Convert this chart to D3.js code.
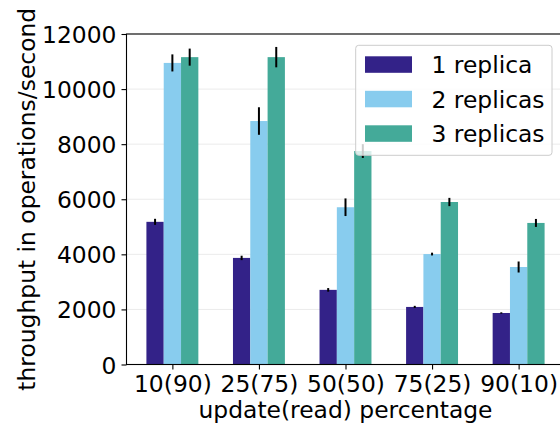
<!DOCTYPE html>
<html>
<head>
<meta charset="utf-8">
<script src="https://cdn.jsdelivr.net/npm/d3@7"></script>
<style>
  html, body { margin: 0; padding: 0; background: #fff; }
  svg { display: block; font-family: "DejaVu Sans", sans-serif; }
</style>
</head>
<body>
<svg id="chart" width="560" height="433"></svg>
<script>
// Workload mixes on the x axis
const categories = ["10(90)", "25(75)", "50(50)", "75(25)", "90(10)"];

// Mean throughput (operations/second) per replica count
const oneReplica    = [5180, 3870, 2710, 2090, 1870];
const twoReplicas   = [10950, 8840, 5710, 4010, 3540];
const threeReplicas = [11160, 11160, 7750, 5900, 5140];

// Error bar half-widths (operations/second)
const oneErr   = [110, 80, 65, 40, 25];
const twoErr   = [310, 500, 320, 50, 200];
const threeErr = [310, 370, 250, 150, 145];

const seriesNames = ["1 replica", "2 replicas", "3 replicas"];
const seriesColors = ["#332288", "#88CCEE", "#44AA99"];
const yTicks = [0, 2000, 4000, 6000, 8000, 10000, 12000];

const series = [
  { name: seriesNames[0], color: seriesColors[0], values: oneReplica, errs: oneErr, offset: -0.2 },
  { name: seriesNames[1], color: seriesColors[1], values: twoReplicas, errs: twoErr, offset: 0 },
  { name: seriesNames[2], color: seriesColors[2], values: threeReplicas, errs: threeErr, offset: 0.2 }
];
const barWidth = 0.2;
const fontSize = 23.4;

const svg = d3.select("#chart");
const plotLeft = 126.5, plotRight = 564.5, plotTop = 34, plotBottom = 364.5;

const x = d3.scaleLinear().domain([-0.53, categories.length - 1 + 0.53]).range([plotLeft, plotRight]);
const y = d3.scaleLinear().domain([0, 12000]).range([plotBottom, plotTop]);

// grid
svg.append("g")
  .selectAll("line")
  .data(yTicks)
  .join("line")
  .attr("x1", plotLeft).attr("x2", plotRight)
  .attr("y1", d => y(d)).attr("y2", d => y(d))
  .attr("stroke", "#ebebeb").attr("stroke-width", 1);

// bars
const bars = svg.append("g");
series.forEach(s => {
  bars.append("g")
    .selectAll("rect")
    .data(s.values)
    .join("rect")
    .attr("x", (d, i) => x(i + s.offset - barWidth / 2))
    .attr("width", (d, i) => x(i + s.offset + barWidth / 2) - x(i + s.offset - barWidth / 2))
    .attr("y", d => y(d))
    .attr("height", d => y(0) - y(d))
    .attr("fill", s.color);
});

// error bars
series.forEach(s => {
  bars.append("g")
    .selectAll("line")
    .data(s.values)
    .join("line")
    .attr("x1", (d, i) => x(i + s.offset))
    .attr("x2", (d, i) => x(i + s.offset))
    .attr("y1", (d, i) => y(d - s.errs[i]))
    .attr("y2", (d, i) => y(d + s.errs[i]))
    .attr("stroke", "#000").attr("stroke-width", 2);
});

// axes
const xAxis = d3.axisBottom(x)
  .tickValues(d3.range(categories.length))
  .tickFormat(i => categories[i])
  .tickSize(5).tickPadding(5);
const gx = svg.append("g").attr("transform", `translate(0,${plotBottom})`).call(xAxis);
gx.select(".domain").remove();
gx.selectAll(".tick line").attr("stroke", "#000").attr("stroke-width", 1.1);
gx.selectAll(".tick text")
  .attr("y", 27).attr("dy", 0)
  .attr("font-size", fontSize).attr("fill", "#000")
  .attr("font-family", "DejaVu Sans, sans-serif");

const yAxis = d3.axisLeft(y).tickValues(yTicks).tickFormat(d3.format("d")).tickSize(5).tickPadding(5);
const gy = svg.append("g").attr("transform", `translate(${plotLeft},0)`).call(yAxis);
gy.select(".domain").remove();
gy.selectAll(".tick line").attr("stroke", "#000").attr("stroke-width", 1.1);
gy.selectAll(".tick text")
  .attr("dy", "0.364em")
  .attr("font-size", fontSize).attr("fill", "#000")
  .attr("font-family", "DejaVu Sans, sans-serif");

// spines
svg.append("rect")
  .attr("x", plotLeft).attr("y", plotTop)
  .attr("width", plotRight - plotLeft).attr("height", plotBottom - plotTop)
  .attr("fill", "none").attr("stroke", "#000").attr("stroke-width", 1.1);

// axis titles
svg.append("text")
  .attr("x", (plotLeft + plotRight) / 2).attr("y", 418)
  .attr("text-anchor", "middle")
  .attr("font-size", fontSize).attr("fill", "#000")
  .text("update(read) percentage");

svg.append("text")
  .attr("transform", `translate(34.5,${(plotTop + plotBottom) / 2}) rotate(-90)`)
  .attr("text-anchor", "middle")
  .attr("font-size", fontSize).attr("fill", "#000")
  .text("throughput in operations/second");

// legend
const legend = svg.append("g");
legend.append("rect")
  .attr("x", 355.7).attr("y", 45.3)
  .attr("width", 196.3).attr("height", 110)
  .attr("rx", 3).attr("ry", 3)
  .attr("fill", "#fff").attr("fill-opacity", 0.8)
  .attr("stroke", "#cccccc").attr("stroke-width", 1);

const rows = legend.selectAll("g.row")
  .data(series)
  .join("g")
  .attr("class", "row")
  .attr("transform", (d, i) => `translate(0,${64.5 + i * 34.5})`);
rows.append("rect")
  .attr("x", 365).attr("y", -8.2)
  .attr("width", 47).attr("height", 16.5)
  .attr("fill", d => d.color);
rows.append("text")
  .attr("x", 431.5).attr("y", 8.6)
  .attr("font-size", fontSize).attr("fill", "#000")
  .text(d => d.name);
</script>
</body>
</html>
